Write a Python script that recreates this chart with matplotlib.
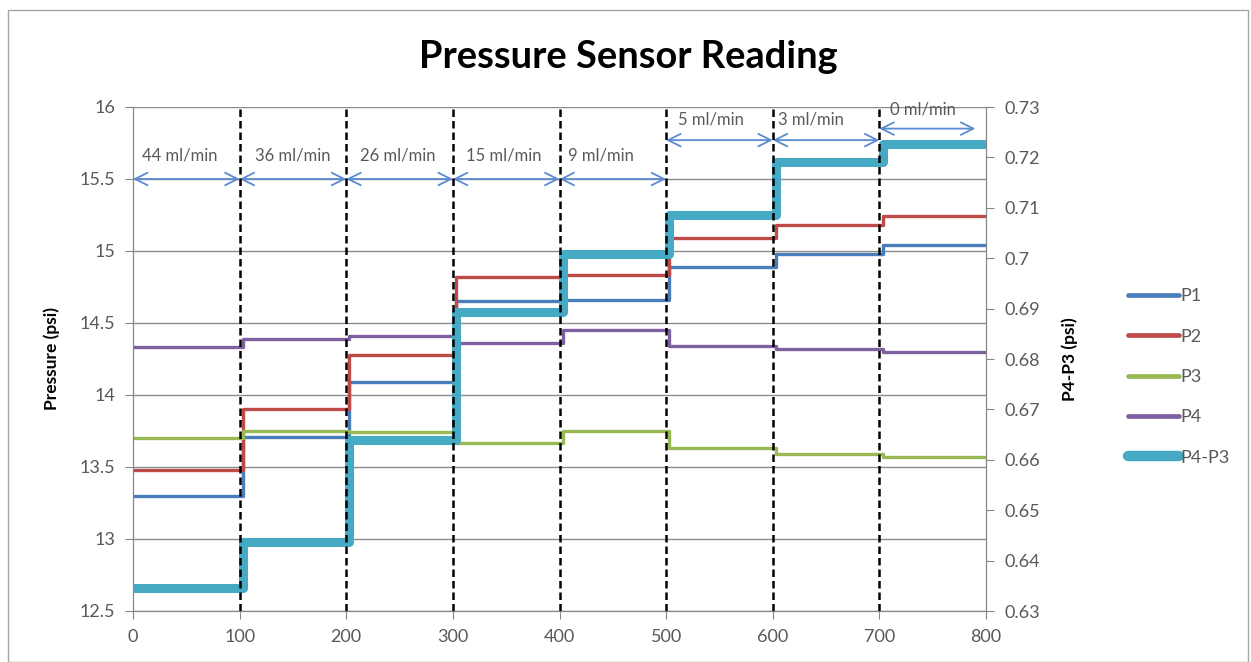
import matplotlib
matplotlib.use("Agg")
import matplotlib.pyplot as plt
from matplotlib.patches import Rectangle

# ---- data ----
boundaries = [0, 103, 203, 303, 403, 503, 603, 703, 800]
p1 = [13.30, 13.71, 14.09, 14.65, 14.66, 14.89, 14.98, 15.04]
p2 = [13.48, 13.90, 14.28, 14.82, 14.83, 15.09, 15.18, 15.24]
p3 = [13.70, 13.75, 13.74, 13.67, 13.75, 13.63, 13.59, 13.57]
p4 = [14.33, 14.39, 14.41, 14.36, 14.45, 14.34, 14.32, 14.30]
p4_p3 = [0.6346, 0.6437, 0.6639, 0.6893, 0.7008, 0.7086, 0.7191, 0.7227]
flow_labels = ["44 ml/min", "36 ml/min", "26 ml/min", "15 ml/min", "9 ml/min",
               "5 ml/min", "3 ml/min", "0 ml/min"]
flow_starts = [0, 100, 200, 300, 400, 500, 600, 700]
flow_ends = [100, 200, 300, 400, 500, 600, 700, 790]
divider_x = [100, 200, 300, 400, 500, 600, 700]
left_ticks = [12.5, 13, 13.5, 14, 14.5, 15, 15.5, 16]
right_ticks = [0.63, 0.64, 0.65, 0.66, 0.67, 0.68, 0.69, 0.70, 0.71, 0.72, 0.73]
x_ticks = [0, 100, 200, 300, 400, 500, 600, 700, 800]

# annotation layout
arrow_y = [15.5, 15.5, 15.5, 15.5, 15.5, 15.77, 15.77, 15.85]
label_x = [44, 150, 248, 348, 439, 542, 636, 741]
label_y = [15.66, 15.66, 15.66, 15.66, 15.66, 15.91, 15.91, 15.98]

plt.rcParams['font.family'] = ['Lato', 'DejaVu Sans']

W, H = 1251, 662
fig = plt.figure(figsize=(W / 100, H / 100), dpi=100)
fig.patches.append(Rectangle((8 / W, 0), (1248 - 8) / W, 1 - 10 / H,
                             transform=fig.transFigure, fill=False,
                             edgecolor='#a6a6a6', linewidth=1))

ax = fig.add_axes([133 / W, 1 - 611 / H, (986 - 133) / W, (611 - 107) / H])
ax2 = ax.twinx()

def steps(vals):
    return vals + [vals[-1]]

c_blue = '#4a7ebb'
c_red = '#be4b48'
c_green = '#98b954'
c_purple = '#7d60a0'
c_cyan = '#46aac5'
grey = '#595959'
spine_c = '#868686'

lw = 2.4
kw = dict(drawstyle='steps-post', zorder=3, solid_capstyle='round')
ax.plot(boundaries, steps(p1), color=c_blue, lw=lw, label='P1', **kw)
ax.plot(boundaries, steps(p2), color=c_red, lw=lw, label='P2', **kw)
ax.plot(boundaries, steps(p3), color=c_green, lw=lw, label='P3', **kw)
ax.plot(boundaries, steps(p4), color=c_purple, lw=lw, label='P4', **kw)
ax2.plot(boundaries, steps(p4_p3), color=c_cyan, lw=6.5,
         label='P4-P3', solid_joinstyle='round', **kw)

ax.set_xlim(0, 800)
ax.set_ylim(12.5, 16)
ax2.set_ylim(0.63, 0.73)
ax.set_xticks(x_ticks)
ax.set_yticks(left_ticks)
ax.set_yticklabels([f"{v:g}" for v in left_ticks])
ax2.set_yticks(right_ticks)
ax2.set_yticklabels([f"{v:g}" for v in right_ticks])

ax.grid(axis='y', color='#8c8c8c', lw=1.0)
ax.set_axisbelow(True)

for a in (ax, ax2):
    for s in ['left', 'right', 'bottom']:
        a.spines[s].set_color(spine_c)
    a.spines['top'].set_visible(False)
    a.tick_params(colors=spine_c, labelcolor=grey, labelsize=13, length=6,
                  direction='out', pad=7)

ax.set_ylabel('Pressure (psi)', fontsize=12.5, fontweight='bold', color='black', labelpad=14)
ax2.set_ylabel('P4-P3 (psi)', fontsize=12.5, fontweight='bold', color='black', labelpad=16)

# dashed dividers
for xv in divider_x:
    ax2.axvline(xv, color='black', lw=1.8, ls=(0, (3, 1.6)), zorder=5)

# flow arrows and labels
for lab, xs, xe, ya, lx, ly in zip(flow_labels, flow_starts, flow_ends, arrow_y, label_x, label_y):
    ax.annotate('', xy=(xe, ya), xytext=(xs, ya),
                arrowprops=dict(arrowstyle='<->,head_length=0.9,head_width=0.45',
                                color='#5b8bd0', lw=1.3, shrinkA=0, shrinkB=0),
                zorder=6, annotation_clip=False)
    ax.text(lx, ly, lab, ha='center', va='center', fontsize=12, color=grey, zorder=6)

fig.text((420 + 836) / 2 / W, 1 - 57 / H, 'Pressure Sensor Reading', ha='center', va='center',
         fontsize=27.4, fontweight='bold', color='black')

h1, l1 = ax.get_legend_handles_labels()
h2, l2 = ax2.get_legend_handles_labels()
leg = fig.legend(h1 + h2, l1 + l2, loc='upper left', bbox_to_anchor=(1112 / W, 1 - 272 / H),
                 frameon=False, fontsize=13, labelspacing=1.35, handlelength=2.8,
                 handletextpad=0.1, labelcolor=grey)
for line in leg.get_lines():
    line.set_linewidth(line.get_linewidth() + 1)

fig.savefig('out.png', dpi=100)
